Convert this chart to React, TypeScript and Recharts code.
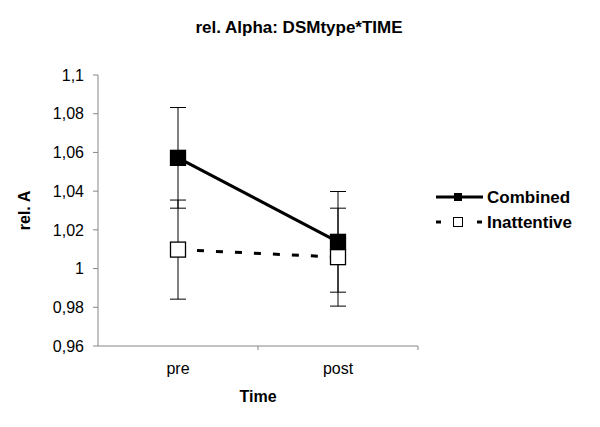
import React from 'react'
import { LineChart, Line, XAxis, YAxis, ErrorBar, Legend, Label } from 'recharts'

const categories = ['pre', 'post']
const combined = [1.0572, 1.0138]
const combinedErr = [0.026, 0.026]
const inattentive = [1.0098, 1.0059]
const inattentiveErr = [0.0256, 0.0253]
const yTicks = [0.96, 0.98, 1, 1.02, 1.04, 1.06, 1.08, 1.1]
const yTickLabels = ['0,96', '0,98', '1', '1,02', '1,04', '1,06', '1,08', '1,1']

const data = categories.map((name, i) => ({
  name,
  combined: combined[i],
  combinedErr: combinedErr[i],
  inattentive: inattentive[i],
  inattentiveErr: inattentiveErr[i],
}))

const FONT = '"Liberation Sans", Arial, sans-serif'
const AXIS = '#868686'
const HALF_BAND = 80

function squareDot(fill: string) {
  return (props: any) => {
    const { cx, cy, index } = props
    if (cx == null || cy == null) return <g key={index} />
    return (
      <rect key={index} x={cx - 7.5} y={cy - 7.5} width={15} height={15}
        fill={fill} stroke="#000" strokeWidth={1.3} />
    )
  }
}

function CategoryTick(props: any) {
  const { x, y, payload } = props
  return (
    <g>
      <line x1={x + HALF_BAND} y1={y - 4} x2={x + HALF_BAND} y2={y} stroke={AXIS} />
      <text x={x} y={y + 24} textAnchor="middle" fontSize={16} fontFamily={FONT} fill="#000">
        {payload.value}
      </text>
    </g>
  )
}

function LegendBox() {
  return (
    <svg width={150} height={50} style={{ fontFamily: FONT }}>
      <line x1={1} y1={12} x2={48} y2={12} stroke="#000" strokeWidth={3} />
      <rect x={19} y={8} width={8} height={8} fill="#000" />
      <text x={52} y={18} fontSize={17} fontWeight="bold" fill="#000">Combined</text>
      <line x1={1} y1={37} x2={6} y2={37} stroke="#000" strokeWidth={3} />
      <rect x={18.5} y={32.5} width={9} height={9} fill="#fff" stroke="#000" strokeWidth={1} />
      <line x1={42} y1={37} x2={47} y2={37} stroke="#000" strokeWidth={3} />
      <text x={52} y={43} fontSize={17} fontWeight="bold" fill="#000">Inattentive</text>
    </svg>
  )
}

export default function App() {
  return (
    <div style={{ position: 'absolute', left: 0, top: 0, width: 600, height: 427, background: '#fff', fontFamily: FONT }}>
      <div style={{ position: 'absolute', left: 0, width: 598, top: 18, textAlign: 'center', fontSize: 17, fontWeight: 'bold' }}>
        rel. Alpha: DSMtype*TIME
      </div>
      <LineChart width={600} height={427} data={data}
        margin={{ top: 75, right: 182, bottom: 41, left: 38 }}>
        <XAxis dataKey="name" height={40} axisLine={{ stroke: AXIS }} tickLine={false}
          padding={{ left: HALF_BAND, right: HALF_BAND }}
          tickSize={4} tickMargin={0} tick={<CategoryTick />} interval={0}>
          <Label value="Time" position="insideBottom" offset={0} dy={16}
            style={{ fontSize: 16, fontWeight: 'bold', fill: '#000', fontFamily: FONT }} />
        </XAxis>
        <YAxis width={60} domain={[0.96, 1.1]} ticks={yTicks} interval={0}
          tickFormatter={(v: number) => yTickLabels[yTicks.indexOf(v)] ?? String(v)}
          axisLine={{ stroke: AXIS }} tickLine={{ stroke: AXIS }} tickSize={5} tickMargin={9}
          tick={{ fontSize: 16, fill: '#000', fontFamily: FONT }}>
          <Label value="rel. A" angle={-90} position="insideLeft" offset={-14}
            style={{ fontSize: 16, fontWeight: 'bold', fill: '#000', fontFamily: FONT, textAnchor: 'middle' }} />
        </YAxis>
        <Legend layout="horizontal" align="center" verticalAlign="middle" content={<LegendBox />}
          wrapperStyle={{ left: 435, top: 185, width: 150, height: 50 }} />
        <Line dataKey="combined" name="Combined" stroke="#000" strokeWidth={3}
          dot={squareDot('#000')} activeDot={false} isAnimationActive={false}>
          <ErrorBar dataKey="combinedErr" width={8} stroke="#000" strokeWidth={1} />
        </Line>
        <Line dataKey="inattentive" name="Inattentive" stroke="#000" strokeWidth={3}
          strokeDasharray="7 12" dot={squareDot('#fff')} activeDot={false} isAnimationActive={false}>
          <ErrorBar dataKey="inattentiveErr" width={8} stroke="#000" strokeWidth={1} />
        </Line>
      </LineChart>
    </div>
  )
}
